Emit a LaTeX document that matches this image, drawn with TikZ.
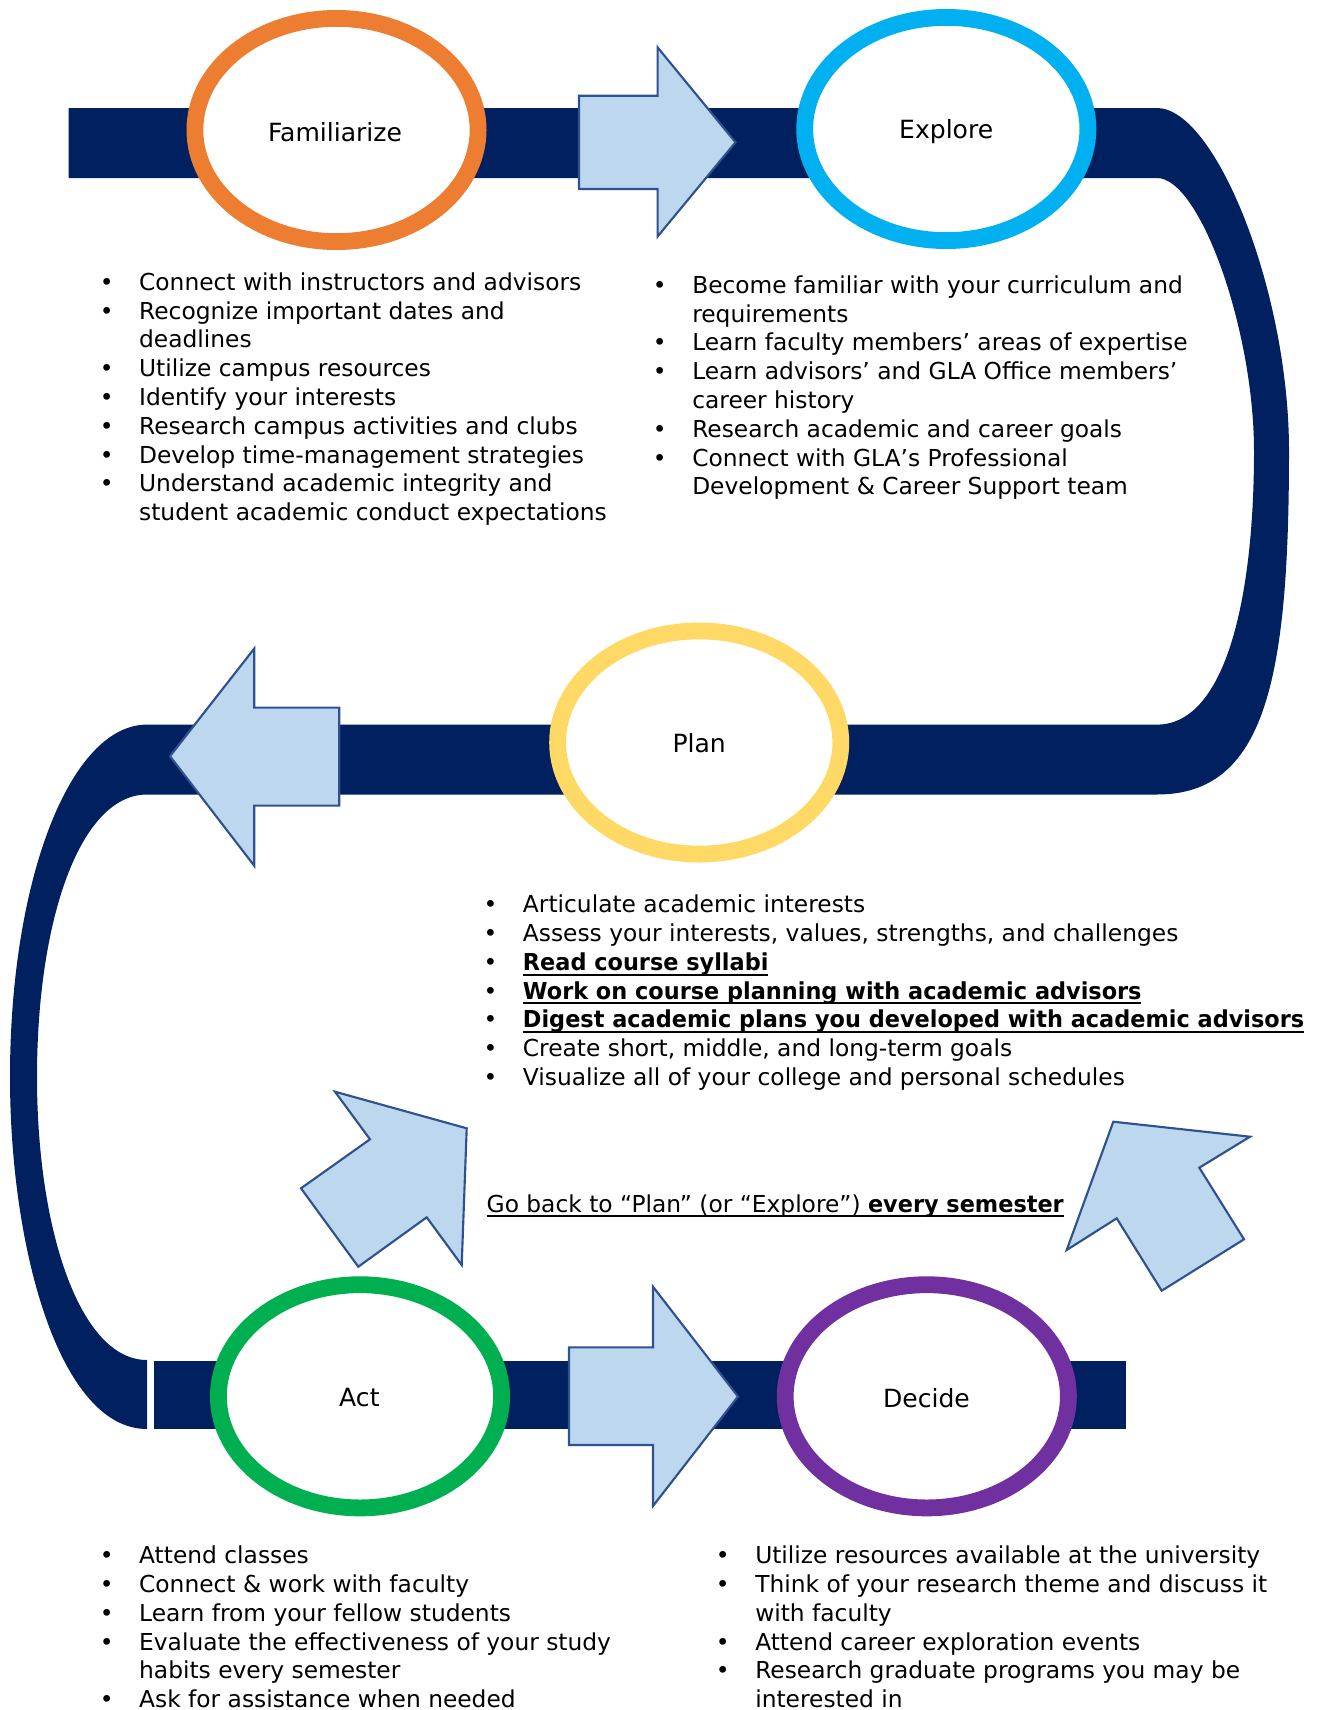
\documentclass[tikz,border=0pt]{standalone}
\usepackage{fontspec}
\setmainfont{DejaVu Sans}[BoldFeatures={FakeStretch=0.96}]

\definecolor{bandnavy}{RGB}{0,32,96}
\definecolor{ringorange}{RGB}{237,125,49}
\definecolor{ringcyan}{RGB}{0,176,240}
\definecolor{ringgold}{RGB}{255,217,102}
\definecolor{ringgreen}{RGB}{0,176,80}
\definecolor{ringpurple}{RGB}{112,48,160}
\definecolor{arrowfill}{RGB}{189,215,238}
\definecolor{arrowline}{RGB}{47,82,143}

\newsavebox\ulbox
\newcommand\undl[1]{\sbox\ulbox{#1}\rlap{\rule[-4pt]{\wd\ulbox}{1.5pt}}\usebox\ulbox}
\newcommand\bitem{\llap{\makebox[29.5pt][l]{•}}}

\tikzset{
  stagering/.style={line width=12.6pt, fill=white},
  stagetitle/.style={inner sep=0pt, font=\fontsize{18.8}{22}\selectfont},
  bulletlist/.style={anchor=north west, inner sep=0pt, align=left, font=\fontsize{17.5}{21.6}\selectfont},
  blockarrow/.style={fill=arrowfill, draw=arrowline, line width=1.6pt, line join=miter},
}

\begin{document}
\begin{tikzpicture}[x=0.75pt,y=0.75pt,yscale=-1,xscale=1]
\useasboundingbox (0,0) rectangle (1320,1710);
\clip (0,0) rectangle (1320,1710);

%Shape: Band with both bends [id:band-main]
\fill [bandnavy] (68.5,108) -- (1157,108) .. controls (1215,108) and (1289,290) .. (1289,451) .. controls (1289,680) and (1265,794.5) .. (1157,794.5) -- (147,794.5) .. controls (80,794.5) and (37,920) .. (37,1077) .. controls (37,1230) and (80,1360) .. (147,1360) -- (147,1429) .. controls (60,1429) and (10,1250) .. (10,1077) .. controls (10,880) and (70,724.6) .. (147,724.6) -- (1157,724.6) .. controls (1225,724.6) and (1254,600) .. (1254,451) .. controls (1254,330) and (1200,178) .. (1157,178) -- (68.5,178) -- cycle ;
%Shape: Rectangle [id:band-bottom]
\fill [bandnavy] (154,1361) rectangle (1126,1429) ;

%Shape: Right Arrow [id:arrow-top]
\draw [blockarrow] (579,95.7) -- (657.6,95.7) -- (657.6,47.4) -- (735.5,142.3) -- (657.6,236.5) -- (657.6,189) -- (579,189) -- cycle ;
%Shape: Left Arrow [id:arrow-middle]
\draw [blockarrow] (339.3,707.6) -- (254.2,707.6) -- (254.2,648.6) -- (170,756.2) -- (254.2,865.7) -- (254.2,805.6) -- (339.3,805.6) -- cycle ;
%Shape: Right Arrow [id:arrow-bottom]
\draw [blockarrow] (569,1347.3) -- (653,1347.3) -- (653,1286.7) -- (738,1396.5) -- (653,1506) -- (653,1445) -- (569,1445) -- cycle ;
%Shape: Up Right Arrow [id:arrow-back-left]
\draw [blockarrow] (466.7,1128.3) -- (335,1091.7) -- (370,1139.3) -- (301,1188.3) -- (358.3,1266.7) -- (426.7,1217.3) -- (461.7,1265) -- cycle ;
%Shape: Up Left Arrow [id:arrow-back-right]
\draw [blockarrow] (1113.3,1121.7) -- (1250,1136.7) -- (1199.3,1167.7) -- (1244,1239.3) -- (1161.7,1290.7) -- (1116.7,1218.3) -- (1066.7,1250) -- cycle ;

%Shape: Ellipse [id:ring-familiarize]
\draw [stagering, draw=ringorange] (336.5,130) ellipse (141.6 and 111.6) ;
%Shape: Ellipse [id:ring-explore]
\draw [stagering, draw=ringcyan] (946.3,129) ellipse (141.6 and 111.6) ;
%Shape: Ellipse [id:ring-plan]
\draw [stagering, draw=ringgold] (699.2,742.5) ellipse (141.6 and 111.6) ;
%Shape: Ellipse [id:ring-act]
\draw [stagering, draw=ringgreen] (360,1396.3) ellipse (141.6 and 111.6) ;
%Shape: Ellipse [id:ring-decide]
\draw [stagering, draw=ringpurple] (926.8,1396.3) ellipse (141.6 and 111.6) ;

% Text Node
\node [stagetitle] (familiarize) at (335,131.7) {Familiarize};
% Text Node
\node [stagetitle] (explore) at (946.2,131.7) {Explore};
% Text Node
\node [stagetitle] (plan) at (699.2,743) {Plan};
% Text Node
\node [stagetitle] (act) at (359.4,1397.3) {Act};
% Text Node
\node [stagetitle] (decide) at (926.5,1398) {Decide};

% Text Node
\node [bulletlist] (famlist) at (138.9,269.8) {\strut\bitem Connect with instructors and advisors\\
\bitem Recognize important dates and\\
deadlines\\
\bitem Utilize campus resources\\
\bitem Identify your interests\\
\bitem Research campus activities and clubs\\
\bitem Develop time-management strategies\\
\bitem Understand academic integrity and\\
student academic conduct expectations};
% Text Node
\node [bulletlist] (explist) at (692,272.8) {\strut\bitem Become familiar with your curriculum and\\
requirements\\
\bitem Learn faculty members’ areas of expertise\\
\bitem Learn advisors’ and GLA Office members’\\
career history\\
\bitem Research academic and career goals\\
\bitem Connect with GLA’s Professional\\
Development \& Career Support team};
% Text Node
\node [bulletlist] (planlist) at (522.7,892.3) {\strut\bitem Articulate academic interests\\
\bitem Assess your interests, values, strengths, and challenges\\
\bitem \undl{\textbf{Read course syllabi}}\\
\bitem \undl{\textbf{Work on course planning with academic advisors}}\\
\bitem \undl{\textbf{Digest academic plans you developed with academic advisors}}\\
\bitem Create short, middle, and long-term goals\\
\bitem Visualize all of your college and personal schedules};
% Text Node
\node [bulletlist, anchor=base west] (goback) at (486.4,1212) {\undl{Go back to “Plan” (or “Explore”) \textbf{every semester}}};
% Text Node
\node [bulletlist] (actlist) at (138.9,1543.3) {\strut\bitem Attend classes\\
\bitem Connect \& work with faculty\\
\bitem Learn from your fellow students\\
\bitem Evaluate the effectiveness of your study\\
habits every semester\\
\bitem Ask for assistance when needed};
% Text Node
\node [bulletlist] (decidelist) at (755,1543.3) {\strut\bitem Utilize resources available at the university\\
\bitem Think of your research theme and discuss it\\
with faculty\\
\bitem Attend career exploration events\\
\bitem Research graduate programs you may be\\
interested in};

\end{tikzpicture}
\end{document}
